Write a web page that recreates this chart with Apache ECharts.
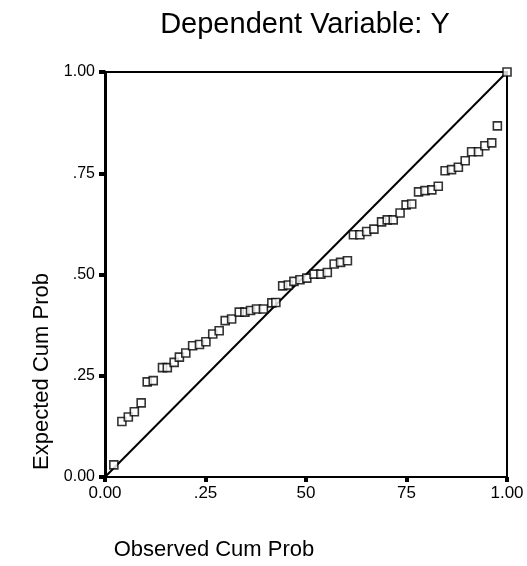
<!DOCTYPE html>
<html>
<head>
<meta charset="utf-8">
<script src="https://cdn.jsdelivr.net/npm/echarts@6/dist/echarts.min.js"></script>
<style>
  html, body { margin: 0; padding: 0; background: #fff; }
  #chart { width: 527px; height: 566px; }
</style>
</head>
<body>
<div id="chart"></div>
<script>
// P-P plot values
const observedCumProb = [
  0.022, 0.042, 0.058, 0.073, 0.090, 0.105, 0.120, 0.143, 0.155, 0.172,
  0.185, 0.201, 0.218, 0.235, 0.251, 0.268, 0.284, 0.299, 0.315, 0.334,
  0.348, 0.362, 0.377, 0.394, 0.415, 0.425, 0.442, 0.456, 0.470, 0.485,
  0.502, 0.520, 0.537, 0.553, 0.570, 0.586, 0.603, 0.618, 0.634, 0.651,
  0.669, 0.688, 0.702, 0.717, 0.734, 0.749, 0.763, 0.780, 0.796, 0.813,
  0.829, 0.846, 0.862, 0.879, 0.896, 0.912, 0.929, 0.945, 0.962, 0.976,
  1.000
]
const expectedCumProb = [
  0.030, 0.137, 0.148, 0.161, 0.183, 0.235, 0.238, 0.270, 0.270, 0.283,
  0.296, 0.306, 0.324, 0.327, 0.334, 0.353, 0.361, 0.386, 0.390, 0.407,
  0.407, 0.411, 0.415, 0.415, 0.430, 0.431, 0.472, 0.474, 0.483, 0.487,
  0.491, 0.501, 0.501, 0.505, 0.526, 0.530, 0.534, 0.598, 0.598, 0.606,
  0.612, 0.630, 0.635, 0.635, 0.652, 0.672, 0.674, 0.704, 0.707, 0.709,
  0.718, 0.756, 0.759, 0.765, 0.781, 0.803, 0.803, 0.818, 0.825, 0.867,
  1.000
]
const refLine = [[0, 0], [1, 1]]
const xTickLabels = ['0.00', '.25', '50', '75', '1.00']
const yTickLabels = ['0.00', '.25', '.50', '.75', '1.00']

const font = 'Liberation Sans, Arial, sans-serif'
const chart = echarts.init(document.getElementById('chart'))

const points = observedCumProb.map((x, i) => [x, expectedCumProb[i]])

const option = {
  animation: false,
  backgroundColor: '#fff',
  title: {
    text: 'Dependent Variable: Y',
    left: 300,
    top: 5,
    textAlign: 'center',
    textStyle: {
      fontFamily: font,
      fontSize: 29,
      fontWeight: 'normal',
      color: '#000'
    }
  },
  grid: {
    left: 105,
    right: 20,
    top: 72,
    bottom: 88,
    show: true,
    borderColor: '#000',
    borderWidth: 2
  },
  xAxis: {
    type: 'value',
    min: 0,
    max: 1,
    interval: 0.25,
    name: 'Observed Cum Prob',
    nameLocation: 'middle',
    nameGap: 62,
    nameTextStyle: {
      fontFamily: font,
      fontSize: 22,
      color: '#000',
      padding: [0, 184, 0, 0]
    },
    axisLine: { lineStyle: { color: '#000', width: 2 } },
    axisTick: { length: 5, lineStyle: { color: '#000', width: 4 } },
    axisLabel: {
      fontFamily: font,
      fontSize: 17,
      color: '#000',
      margin: 8,
      formatter: v => xTickLabels[Math.round(v / 0.25)]
    },
    splitLine: { show: false }
  },
  yAxis: {
    type: 'value',
    min: 0,
    max: 1,
    interval: 0.25,
    name: 'Expected Cum Prob',
    nameLocation: 'middle',
    nameGap: 52,
    nameRotate: 90,
    nameTextStyle: {
      fontFamily: font,
      fontSize: 22,
      color: '#000',
      padding: [0, 194, 0, 0]
    },
    axisLine: { lineStyle: { color: '#000', width: 3 } },
    axisTick: { length: 6, lineStyle: { color: '#000', width: 4 } },
    axisLabel: {
      fontFamily: font,
      fontSize: 16,
      color: '#000',
      margin: 10,
      formatter: v => yTickLabels[Math.round(v / 0.25)]
    },
    splitLine: { show: false }
  },
  series: [
    {
      type: 'line',
      data: refLine,
      symbol: 'none',
      lineStyle: { color: '#000', width: 2 },
      z: 2
    },
    {
      type: 'scatter',
      data: points,
      symbol: 'rect',
      symbolSize: 8,
      itemStyle: {
        color: '#fff',
        borderColor: '#000',
        borderWidth: 1.6
      },
      z: 3
    }
  ]
}

chart.setOption(option)
</script>
</body>
</html>
